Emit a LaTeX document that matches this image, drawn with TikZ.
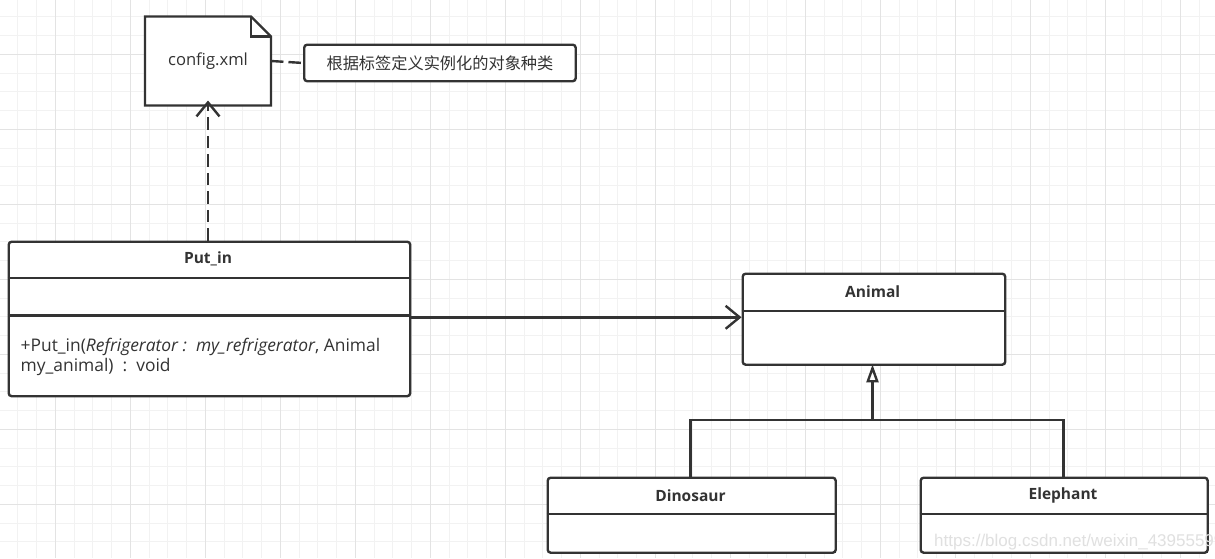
\documentclass[tikz,border=0pt]{standalone}
\usepackage{fontspec}
\setmainfont{Open Sans}
\newfontfamily\cjk{Noto Sans CJK SC}
\newfontfamily\wm{Liberation Sans}
\usetikzlibrary{arrows.meta}
\definecolor{ink}{HTML}{333333}
\definecolor{gridminor}{HTML}{F2F2F2}
\definecolor{gridmajor}{HTML}{E3E3E3}
\tikzset{
  boxline/.style={draw=ink, line width=2.4pt, rounded corners=3pt},
  classbox/.style={boxline, fill=white, anchor=north west, inner sep=0pt},
  divider/.style={draw=ink, line width=2.4pt},
  conn/.style={draw=ink, line width=2.4pt},
  title/.style={font=\fontsize{15.5}{18}\selectfont\bfseries, text=ink},
  plain/.style={font=\fontsize{16.6}{19}\selectfont, text=ink},
  method/.style={font=\fontsize{17.4}{20}\selectfont, text=ink, anchor=base west, inner sep=0pt},
  openarrow/.style={-{Straight Barb[length=14pt, width=23pt, line width=2.4pt]}},
  inherit/.style={-{Triangle[open, length=18pt, width=12pt, line width=2.4pt]}},
}
\begin{document}
\begin{tikzpicture}[x=1pt, y=-1pt]
\useasboundingbox (0,0) rectangle (1215,558);
\fill[white] (0,0) rectangle (1215,558);
\begin{scope}
\clip (0,0) rectangle (1215,558);
% grid
\foreach \i in {0,...,65} {
  \draw[gridminor, line width=1pt] ({-0.95+18.75*\i},0) -- ({-0.95+18.75*\i},558);
}
\foreach \i in {0,...,30} {
  \draw[gridminor, line width=1pt] (0,{-1.95+18.75*\i}) -- (1215,{-1.95+18.75*\i});
}
\foreach \i in {0,...,16} {
  \draw[gridmajor, line width=1pt] ({55.3+75*\i},0) -- ({55.3+75*\i},558);
}
\foreach \i in {0,...,8} {
  \draw[gridmajor, line width=1pt] (0,{54.2+75*\i}) -- (1215,{54.2+75*\i});
}
\end{scope}

% note config.xml
\filldraw[fill=white, draw=ink, line width=2.4pt, line join=miter]
  (145,16.5) -- (251,16.5) -- (271,36.5) -- (271,105.5) -- (145,105.5) -- cycle;
\draw[ink, line width=2.4pt, line join=miter] (251,16.5) -- (251,36.5) -- (271,36.5);
\node[plain, inner sep=0pt] (note) at (208,61) {config.xml};
\coordinate (noteS) at (208,105.5);
\coordinate (noteE) at (271,61);

% comment
\node[boxline, fill=white, minimum width=271.5pt, minimum height=36.5pt, inner sep=0pt, anchor=north west,
      font=\cjk\fontsize{16.2}{18}\selectfont, text=ink] (comment) at (303,43.5) {根据标签定义实例化的对象种类};

% Put_in class
\node[classbox, minimum width=401.5pt, minimum height=154.5pt] (putin) at (7.5,240.5) {};
\draw[divider] (7.5,277.7) -- (409,277.7);
\draw[divider] (7.5,315.3) -- (409,315.3);
\node[title] (putintitle) at (208,259) {Put\_in};
\node[method] (m1) at (20.5,351) {+Put\_in(\textit{Refrigerator :\ \ my\_refrigerator}, Animal};
\node[method] (m2) at (20.5,371) {my\_animal)\ \ :\ \ void};

% Animal class
\node[classbox, minimum width=262.5pt, minimum height=91pt] (animal) at (741.5,272.5) {};
\draw[divider] (741.5,310.7) -- (1004,310.7);
\node[title] (animaltitle) at (872.7,291.5) {Animal};

% Dinosaur class
\node[classbox, minimum width=288pt, minimum height=75pt] (dino) at (546.5,476.5) {};
\draw[divider] (546.5,514) -- (834.5,514);
\node[title] (dinotitle) at (690.5,495.5) {Dinosaur};

% Elephant class
\node[classbox, minimum width=287pt, minimum height=75pt] (eleph) at (919.5,476.5) {};
\draw[divider] (919.5,514) -- (1206.5,514);
\node[title] (elephtitle) at (1063,495.5) {Elephant};

% connectors
\draw[conn, dash pattern=on 12.5pt off 5pt] (noteE) -- (comment.west);
\draw[conn, openarrow, dash pattern=on 12.5pt off 6pt] (putin.north -| noteS) -- ([yshift=5pt]noteS);
\coordinate (assocStart) at (409,317.3);
\draw[conn, openarrow] (assocStart) -- (assocStart -| animal.west);
\coordinate (junction) at (872.5,420);
\draw[conn] (dino.north -| 690.5,0) -- (690.5,420) -- (1063.5,420) -- (eleph.north -| 1063.5,0);
\draw[conn, inherit] (junction) -- ([yshift=1.5pt]animal.south -| junction);

% watermark
\begin{scope}
\clip (0,0) rectangle (1215,558);
\node[font=\wm\fontsize{17}{20}\selectfont, text=black!12, anchor=base west, inner sep=0pt] (wm) at (934,546) {https://blog.csdn.net/weixin\_43955599};
\end{scope}
\end{tikzpicture}
\end{document}
